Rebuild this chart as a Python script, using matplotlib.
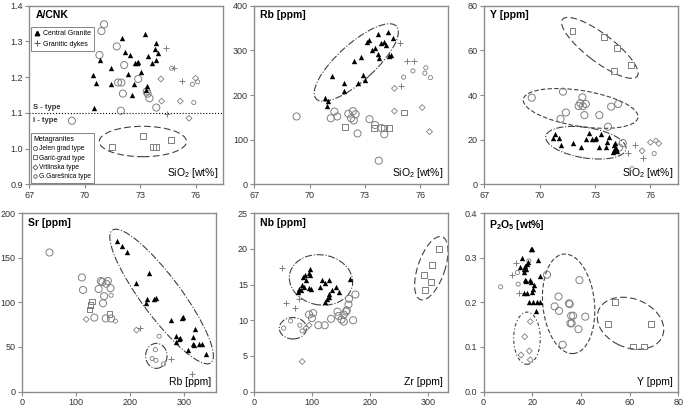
import matplotlib
matplotlib.use("Agg")
import matplotlib.pyplot as plt
from matplotlib.patches import Ellipse
from matplotlib.lines import Line2D

plt.rcParams['font.family'] = ['Liberation Sans', 'DejaVu Sans']
plt.rcParams['mathtext.fontset'] = 'custom'
plt.rcParams['mathtext.rm'] = 'Liberation Sans'
plt.rcParams['mathtext.bf'] = 'Liberation Sans:bold'

# ---- A/CNK vs SiO2 ----
acnk_central = [(73.25, 1.320), (72.02, 1.309), (73.83, 1.296), (73.79, 1.278), (73.98, 1.269),
                (72.16, 1.271), (72.42, 1.262), (73.40, 1.258), (73.87, 1.249), (73.65, 1.241),
                (72.71, 1.240), (72.89, 1.243), (70.83, 1.249), (71.44, 1.225), (73.03, 1.215),
                (72.35, 1.210), (70.43, 1.206), (70.61, 1.184), (71.40, 1.180), (72.65, 1.180),
                (73.36, 1.174), (73.29, 1.165), (72.56, 1.150), (70.50, 1.113), (72.80, 1.240)]
acnk_dykes = [(74.38, 1.283), (74.85, 1.225), (75.28, 1.189), (74.45, 1.097)]
acnk_jelen = [(71.04, 1.348), (70.90, 1.329), (71.73, 1.286), (70.79, 1.262), (72.13, 1.234),
              (71.80, 1.185), (71.98, 1.185), (72.89, 1.195), (72.06, 1.154), (73.40, 1.154),
              (73.50, 1.141), (73.87, 1.115), (71.95, 1.106), (69.30, 1.078), (73.35, 1.160)]
acnk_garic = [(71.48, 1.004), (73.14, 1.036), (73.68, 1.004), (73.86, 1.004), (74.65, 1.023)]
acnk_vrt = [(74.12, 1.195), (74.16, 1.133), (75.17, 1.133), (76.00, 1.197), (75.64, 1.085)]
acnk_gar = [(74.70, 1.225), (75.83, 1.180), (76.11, 1.187), (75.90, 1.129)]

# ---- Rb vs SiO2 ----
rb_central = [(73.71, 336), (74.25, 342), (74.50, 328), (74.03, 319), (73.89, 316), (74.14, 313),
              (73.13, 319), (73.20, 324), (73.52, 306), (73.38, 301), (74.32, 287), (74.39, 289),
              (73.71, 291), (73.74, 282), (72.80, 285), (72.43, 276), (71.24, 242), (72.87, 245),
              (72.62, 228), (71.89, 227), (71.86, 210), (70.84, 194), (70.99, 186), (70.95, 176),
              (72.98, 233)]
rb_dykes = [(74.90, 316), (75.30, 277), (75.65, 277), (74.95, 220)]
rb_jelen = [(69.30, 152), (71.15, 148), (71.35, 163), (71.50, 152), (72.10, 158), (72.25, 148),
            (72.35, 164), (72.50, 157), (72.40, 143), (72.60, 114), (73.25, 146), (73.55, 133),
            (73.90, 126), (74.05, 112), (73.75, 53)]
rb_garic = [(71.90, 128), (73.50, 126), (74.05, 126), (74.30, 126), (75.10, 161)]
rb_vrt = [(74.60, 215), (74.60, 164), (76.10, 172), (76.50, 118)]
rb_gar = [(75.10, 240), (75.60, 254), (76.30, 261), (76.25, 249), (76.55, 239)]

# ---- Y vs SiO2 ----
y_central = [(70.84, 22.5), (70.70, 20.7), (71.03, 20.7), (71.13, 17.7), (71.78, 18.3), (72.26, 16.8),
             (72.51, 20.4), (72.65, 22.8), (72.84, 20.3), (72.98, 20.3), (73.05, 20.8), (73.20, 16.8),
             (73.34, 22.5), (73.63, 18.9), (73.60, 16.8), (73.78, 21.0), (74.00, 17.5), (74.10, 18.5),
             (74.05, 15.5), (74.15, 16.5), (74.20, 14.8), (73.95, 14.3)]
y_dykes = [(75.17, 17.5), (74.80, 14.0), (75.60, 11.8)]
y_jelen = [(69.57, 38.8), (71.26, 41.5), (71.42, 32.2), (71.13, 29.3), (72.11, 35.1), (72.20, 36.3),
           (72.31, 39.0), (72.34, 35.0), (72.50, 36.0), (72.42, 31.0), (73.23, 31.0), (73.87, 34.8),
           (74.25, 36.0), (73.70, 25.8), (74.50, 18.5), (74.30, 16.5)]
y_garic = [(71.78, 68.7), (73.50, 65.8), (74.21, 60.9), (74.03, 50.7), (74.97, 53.4)]
y_vrt = [(75.55, 15.0), (76.00, 18.8), (76.45, 18.3)]
y_gar = [(76.20, 13.8), (75.00, 7.0), (76.30, 19.6)]

# ---- Sr vs Rb ----
sr_central = [(176, 169), (186, 163), (194, 157), (235, 133), (212, 122), (231, 104), (230, 99),
              (244, 104), (248, 105), (275, 80), (296, 83), (299, 84), (321, 70), (285, 62), (290, 59),
              (286, 56), (316, 61), (316, 53), (318, 52), (328, 53), (333, 53), (341, 42), (307, 47),
              (293, 60)]
sr_dykes = [(219, 71), (276, 37), (315, 20)]
sr_jelen = [(51, 156), (111, 128), (113, 114), (134, 83), (142, 115), (146, 124), (149, 123),
            (159, 124), (156, 121), (150, 99), (152, 107), (164, 116), (155, 82), (165, 82)]
sr_garic = [(129, 101), (127, 97), (125, 92), (162, 87)]
sr_vrt = [(119, 81), (212, 69)]
sr_gar = [(165, 108), (173, 79), (254, 62), (247, 47), (241, 37), (248, 35), (262, 31)]

# ---- Nb vs Zr ----
nb_central = [(96, 17.2), (95, 16.6), (88, 16.4), (84, 16.1), (97, 16.3), (90, 15.7), (83, 14.9),
              (86, 14.6), (78, 14.4), (81, 14.2), (94, 14.5), (99, 14.4), (118, 15.7), (130, 15.7),
              (122, 15.2), (114, 14.6), (141, 14.7), (147, 14.0), (134, 14.2), (130, 13.7),
              (129, 13.2), (126, 13.0), (122, 12.6), (165, 15.8), (76, 14.0)]
nb_dykes = [(49, 17.3), (55, 12.4), (70, 11.7), (78, 13.0)]
nb_jelen = [(95, 10.8), (102, 11.0), (100, 10.3), (111, 9.3), (122, 9.3), (133, 10.2), (144, 11.2),
            (146, 10.6), (155, 10.8), (159, 11.2), (151, 10.1), (155, 9.8), (164, 13.0), (163, 12.2),
            (171, 10.0), (175, 13.6), (160, 11.4)]
nb_garic = [(294, 16.4), (307, 17.7), (306, 15.4), (296, 14.2), (320, 20.0)]
nb_vrt = [(90, 8.9), (95, 9.3), (83, 4.2)]
nb_gar = [(51, 8.9), (63, 9.9), (79, 9.3), (83, 8.5)]

# ---- P2O5 vs Y ----
p_central = [(19.5, 0.320), (20.0, 0.320), (15.9, 0.299), (22.5, 0.296), (17.8, 0.287), (18.4, 0.290),
             (17.2, 0.282), (15.1, 0.280), (16.8, 0.275), (17.6, 0.275), (16.5, 0.269), (23.3, 0.260),
             (17.0, 0.251), (17.5, 0.248), (19.0, 0.251), (19.6, 0.245), (20.9, 0.238), (20.3, 0.230),
             (20.0, 0.224), (16.5, 0.220), (18.7, 0.200), (20.3, 0.200), (22.0, 0.200), (23.3, 0.200),
             (21.4, 0.181), (18.0, 0.221)]
p_dykes = [(13.5, 0.288), (11.8, 0.262), (14.5, 0.221)]
p_jelen = [(26.1, 0.262), (29.2, 0.191), (30.8, 0.213), (31.0, 0.181), (35.1, 0.198), (35.4, 0.196),
           (36.0, 0.170), (36.8, 0.170), (35.7, 0.153), (36.2, 0.153), (32.5, 0.105), (39.4, 0.250),
           (39.0, 0.140), (41.8, 0.168)]
p_garic = [(53.9, 0.201), (51.0, 0.151), (69.0, 0.151), (61.3, 0.101), (66.1, 0.101)]
p_vrt = [(19.2, 0.157), (16.9, 0.123), (18.8, 0.091), (15.4, 0.082), (19.2, 0.071)]
p_gar = [(7.0, 0.235), (13.9, 0.267), (14.2, 0.241), (18.6, 0.293)]

GREY = '#7f7f7f'
styles = {
    'central': dict(marker='^', s=15, c='k', linewidths=0),
    'dykes': dict(marker='+', s=16, c=GREY, linewidths=0.7),
    'jelen': dict(marker='o', s=26, facecolors='none', edgecolors=GREY, linewidths=0.7),
    'garic': dict(marker='s', s=18, facecolors='none', edgecolors=GREY, linewidths=0.7),
    'vrt': dict(marker='D', s=9, facecolors='none', edgecolors=GREY, linewidths=0.6),
    'gar': dict(marker='o', s=9, facecolors='none', edgecolors=GREY, linewidths=0.6),
}


def scatter(ax, pts, kind):
    xs = [p[0] for p in pts]
    ys = [p[1] for p in pts]
    ax.scatter(xs, ys, zorder=3, **styles[kind])


def ell(ax, c, w, h, a, ls):
    ax.add_patch(Ellipse(c, w, h, angle=a, transform=ax.transAxes, fill=False,
                         ec='#404040', lw=0.8, ls=ls, zorder=2))


def setup(ax, xlim, ylim, xt, yt, ylab, xlab, yfmt=None):
    ax.set_xlim(*xlim)
    ax.set_ylim(*ylim)
    ax.set_xticks(xt)
    ax.set_yticks(yt)
    if yfmt:
        ax.set_yticklabels([yfmt.format(v) for v in yt])
    for sp in ax.spines.values():
        sp.set_color('#8c8c8c')
        sp.set_linewidth(1.0)
    ax.tick_params(direction='out', length=3, width=0.8, color='#8c8c8c',
                   labelsize=6.5, labelcolor='#333333', pad=1.5)
    ax.text(0.03, 0.975, ylab, transform=ax.transAxes, ha='left', va='top',
            fontsize=7.5, fontweight='bold')
    ax.text(0.975, 0.025, xlab, transform=ax.transAxes, ha='right', va='bottom',
            fontsize=7.5)


fig = plt.figure(figsize=(6.85, 4.07), dpi=100)
ax1 = fig.add_axes([0.043, 0.547, 0.283, 0.439])
ax2 = fig.add_axes([0.371, 0.547, 0.283, 0.439])
ax3 = fig.add_axes([0.707, 0.547, 0.283, 0.439])
ax4 = fig.add_axes([0.032, 0.038, 0.284, 0.438])
ax5 = fig.add_axes([0.371, 0.038, 0.283, 0.438])
ax6 = fig.add_axes([0.706, 0.038, 0.284, 0.438])

sio2_ticks = [67, 70, 73, 76]
sio2_lab = 'SiO$_2$ [wt%]'

# panel 1
setup(ax1, (67, 77.5), (0.9, 1.4), sio2_ticks, [0.9, 1.0, 1.1, 1.2, 1.3, 1.4], 'A/CNK', sio2_lab, '{:.1f}')
ax1.axhline(1.1, color='k', ls=':', lw=0.8, zorder=1)
ax1.text(0.02, 1.115, 'S - type', transform=ax1.get_yaxis_transform(), fontsize=5.5,
         fontweight='bold', color='#333333', va='center')
ax1.text(0.02, 1.078, 'I - type', transform=ax1.get_yaxis_transform(), fontsize=5.5,
         fontweight='bold', color='#333333', va='center')
for pts, k in [(acnk_jelen, 'jelen'), (acnk_garic, 'garic'), (acnk_vrt, 'vrt'), (acnk_gar, 'gar'),
               (acnk_dykes, 'dykes'), (acnk_central, 'central')]:
    scatter(ax1, pts, k)
ell(ax1, (0.585, 0.24), 0.45, 0.17, 0, (0, (6, 3)))

h1 = [Line2D([], [], marker='^', ls='none', color='k', ms=3.2, label='Central Granite'),
      Line2D([], [], marker='+', ls='none', color='#555555', ms=4.5, mew=0.7, label='Granitic dykes')]
leg1 = ax1.legend(handles=h1, loc='upper left', bbox_to_anchor=(0.0, 0.89), fontsize=5,
                  frameon=True, fancybox=False, edgecolor='#666666', handlelength=0.8,
                  handletextpad=0.4, borderpad=0.5, labelspacing=0.5, borderaxespad=0.2)
leg1.get_frame().set_linewidth(0.7)
ax1.add_artist(leg1)
h2 = [Line2D([], [], marker='o', ls='none', mfc='none', mec='#555555', ms=3, mew=0.6, label='Jelen grad type'),
      Line2D([], [], marker='s', ls='none', mfc='none', mec='#555555', ms=3.5, mew=0.6, label='Garić-grad type'),
      Line2D([], [], marker='D', ls='none', mfc='none', mec='#555555', ms=2.5, mew=0.6, label='Vrtlinska type'),
      Line2D([], [], marker='o', ls='none', mfc='none', mec='#555555', ms=2.5, mew=0.6, label='G.Garešnica type')]
leg2 = ax1.legend(handles=h2, loc='lower left', bbox_to_anchor=(0.0, 0.0), fontsize=4.8,
                  title='Metagranites', title_fontsize=5, alignment='left', frameon=True,
                  fancybox=False, edgecolor='#666666', handlelength=0.6, handletextpad=0.3,
                  borderpad=0.4, labelspacing=0.35, borderaxespad=0.2)
leg2.get_frame().set_linewidth(0.7)

# panel 2
setup(ax2, (67, 77.5), (0, 400), sio2_ticks, [0, 100, 200, 300, 400], 'Rb [ppm]', sio2_lab)
for pts, k in [(rb_jelen, 'jelen'), (rb_garic, 'garic'), (rb_vrt, 'vrt'), (rb_gar, 'gar'),
               (rb_dykes, 'dykes'), (rb_central, 'central')]:
    scatter(ax2, pts, k)
ell(ax2, (0.527, 0.682), 0.58, 0.2, 45, '-.')

# panel 3
setup(ax3, (67, 77.5), (0, 80), sio2_ticks, [0, 20, 40, 60, 80], 'Y [ppm]', sio2_lab)
for pts, k in [(y_jelen, 'jelen'), (y_garic, 'garic'), (y_vrt, 'vrt'), (y_gar, 'gar'),
               (y_dykes, 'dykes'), (y_central, 'central')]:
    scatter(ax3, pts, k)
ell(ax3, (0.596, 0.764), 0.5, 0.15, -40, (0, (6, 3)))
ell(ax3, (0.497, 0.425), 0.6, 0.2, -10, (0, (4, 2)))
ell(ax3, (0.524, 0.233), 0.42, 0.17, -10, '-.')

# panel 4
setup(ax4, (0, 360), (0, 200), [0, 100, 200, 300], [0, 50, 100, 150, 200], 'Sr [ppm]', 'Rb [ppm]')
for pts, k in [(sr_jelen, 'jelen'), (sr_garic, 'garic'), (sr_vrt, 'vrt'), (sr_gar, 'gar'),
               (sr_dykes, 'dykes'), (sr_central, 'central')]:
    scatter(ax4, pts, k)
ell(ax4, (0.718, 0.533), 0.9, 0.21, -56, '-.')
ell(ax4, (0.691, 0.2), 0.11, 0.14, 0, '-.')

# panel 5
setup(ax5, (0, 335), (0, 25), [0, 100, 200, 300], [0, 5, 10, 15, 20, 25], 'Nb [ppm]', 'Zr [ppm]')
for pts, k in [(nb_jelen, 'jelen'), (nb_garic, 'garic'), (nb_vrt, 'vrt'), (nb_gar, 'gar'),
               (nb_dykes, 'dykes'), (nb_central, 'central')]:
    scatter(ax5, pts, k)
ell(ax5, (0.345, 0.626), 0.33, 0.28, -15, '-.')
ell(ax5, (0.914, 0.692), 0.37, 0.14, 73, (0, (6, 3)))
ell(ax5, (0.2, 0.355), 0.14, 0.12, 0, '-.')

# panel 6
setup(ax6, (0, 80), (0, 0.4), [0, 20, 40, 60, 80], [0.0, 0.1, 0.2, 0.3, 0.4],
      r'P$_\mathbf{2}$O$_\mathbf{5}$ [wt%]', 'Y [ppm]', '{:.1f}')
for pts, k in [(p_jelen, 'jelen'), (p_garic, 'garic'), (p_vrt, 'vrt'), (p_gar, 'gar'),
               (p_dykes, 'dykes'), (p_central, 'central')]:
    scatter(ax6, pts, k)
ell(ax6, (0.223, 0.299), 0.137, 0.293, 0, (0, (3, 2, 1, 2)))
ell(ax6, (0.437, 0.492), 0.266, 0.56, 5, (0, (4, 2)))
ell(ax6, (0.755, 0.383), 0.36, 0.27, -28, (0, (6, 3)))

fig.savefig('out.png', dpi=100)
